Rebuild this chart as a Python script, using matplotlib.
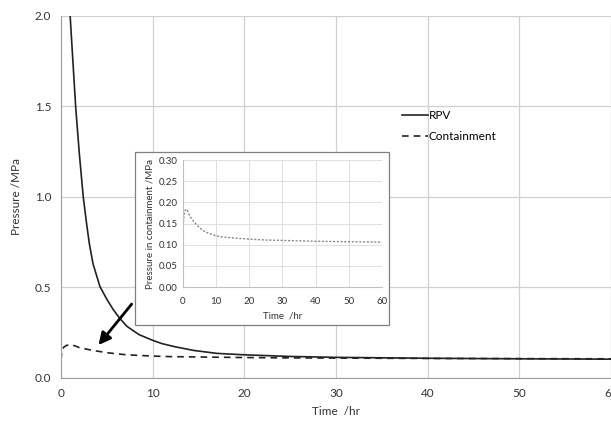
import matplotlib
matplotlib.use("Agg")
import matplotlib.pyplot as plt

plt.rcParams['font.family'] = ['Lato', 'DejaVu Sans']

# time in hours, pressure in MPa
time_rpv = [1.0, 1.3, 1.6, 2.0, 2.43, 2.8, 3.1, 3.5, 4.25, 5.0, 5.7, 6.4, 7.2, 8.5,
            9.9, 11.0, 12.4, 14.5, 17.0, 20.0, 25.0, 30.0, 40.0, 50.0, 60.0]
p_rpv = [2.00, 1.75, 1.50, 1.24, 1.00, 0.85, 0.74, 0.63, 0.505, 0.435, 0.378, 0.330,
         0.285, 0.240, 0.210, 0.190, 0.173, 0.152, 0.136, 0.128, 0.119, 0.114, 0.109,
         0.106, 0.104]

time_cont = [0.0, 0.1, 0.3, 0.6, 1.0, 1.5, 2.0, 3.0, 4.0, 5.0, 6.0, 7.0, 8.0, 10.0,
             12.0, 15.0, 20.0, 25.0, 30.0, 40.0, 50.0, 60.0]
p_cont = [0.100, 0.150, 0.170, 0.180, 0.184, 0.178, 0.168, 0.157, 0.148, 0.140, 0.134,
          0.129, 0.126, 0.121, 0.118, 0.116, 0.113, 0.111, 0.110, 0.108, 0.107, 0.106]

main_xticks = [0, 10, 20, 30, 40, 50, 60]
main_yticks = [0.0, 0.5, 1.0, 1.5, 2.0]
inset_yticks = [0.00, 0.05, 0.10, 0.15, 0.20, 0.25, 0.30]

# arrow from inset to the containment curve (data coords)
arrow_tail = (7.9, 0.42)
arrow_head = (3.9, 0.17)

fig = plt.figure(figsize=(6.11, 4.23), dpi=100)
ax = fig.add_axes([0.0998, 0.1064, 0.9002, 0.856])

ax.plot(time_rpv, p_rpv, color="#222222", linewidth=1.2, label="RPV")
ax.plot(time_cont, p_cont, color="#222222", linewidth=1.2, linestyle=(0, (4, 3)),
        label="Containment")

ax.set_xlim(0, 60)
ax.set_ylim(0, 2.0)
ax.set_xticks(main_xticks)
ax.set_yticks(main_yticks)
ax.set_yticklabels(["%.1f" % v for v in main_yticks])
ax.tick_params(length=0, labelsize=8.5, colors="#333333", pad=7)
ax.grid(True, color="#d0d0d0", linewidth=0.9)
ax.set_axisbelow(True)
for side in ["top", "right"]:
    ax.spines[side].set_visible(False)
for side in ["left", "bottom"]:
    ax.spines[side].set_color("#a0a0a0")
ax.set_xlabel("Time  /hr", fontsize=8.5, color="#333333", labelpad=5)
ax.set_ylabel("Pressure /MPa", fontsize=8.5, color="#333333", labelpad=9)

ax.legend(loc="upper left", bbox_to_anchor=(0.6, 0.77), frameon=False, fontsize=8.5,
          handlelength=2.2, handletextpad=0.1, labelspacing=0.9)

ax.annotate("", xy=arrow_head, xytext=arrow_tail,
            arrowprops=dict(arrowstyle="-|>", color="black", lw=2.0,
                            mutation_scale=18), zorder=3)

# inset background box
box = plt.Rectangle((0.221, 0.2317), 0.4157, 0.409, transform=fig.transFigure,
                    facecolor="white", edgecolor="#808080", linewidth=0.9, zorder=4)
fig.patches.append(box)

ins = fig.add_axes([0.2995, 0.3215, 0.3257, 0.3002])
ins.set_zorder(5)
ins.plot(time_cont, p_cont, color="#888888", linewidth=1.0, linestyle=(0, (1.5, 1.2)))
ins.set_xlim(0, 60)
ins.set_ylim(0, 0.30)
ins.set_xticks(main_xticks)
ins.set_yticks(inset_yticks)
ins.set_yticklabels(["%.2f" % v for v in inset_yticks])
ins.tick_params(length=0, labelsize=7, colors="#333333", pad=4)
ins.tick_params(axis="x", pad=7)
ins.grid(True, color="#e0e0e0", linewidth=0.7)
ins.set_axisbelow(True)
for side in ["top", "right"]:
    ins.spines[side].set_visible(False)
for side in ["left", "bottom"]:
    ins.spines[side].set_color("#c0c0c0")
ins.set_xlabel("Time  /hr", fontsize=7, color="#333333", labelpad=4)
ins.set_ylabel("Pressure in containment /MPa", fontsize=7, color="#333333", labelpad=3)

fig.savefig("out.png", dpi=100)
